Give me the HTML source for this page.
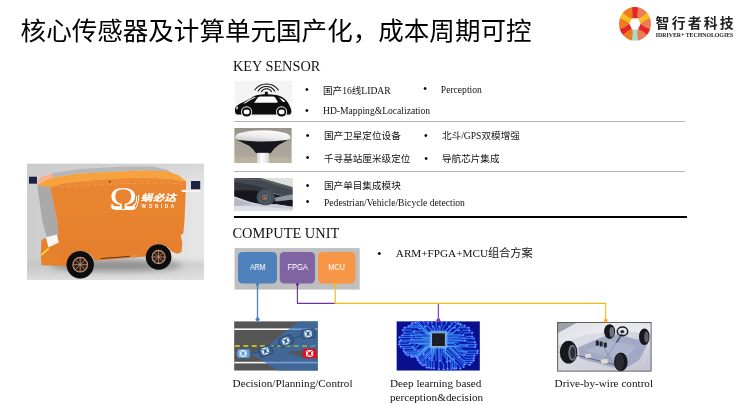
<!DOCTYPE html>
<html>
<head>
<meta charset="utf-8">
<title>核心传感器及计算单元国产化，成本周期可控</title>
<style>
html,body{margin:0;padding:0;background:#fff;}
*{-webkit-font-smoothing:antialiased;}
#wrap{position:absolute;left:0;top:0;width:740px;height:406px;will-change:opacity;opacity:0.999;}
body{width:740px;height:406px;position:relative;overflow:hidden;font-family:"Liberation Serif","Noto Sans CJK SC",serif;color:#111;}
.abs{position:absolute;white-space:nowrap;line-height:1;}
.title{left:20.6px;top:19.2px;font-family:"Liberation Sans","Noto Sans CJK SC",sans-serif;font-size:25.55px;color:#000;}
.h{font-size:14.4px;color:#111;}
.t{font-size:9.6px;color:#111;}
.b{font-size:12px;color:#000;margin-top:-1.3px;margin-left:-0.5px;}
.l{font-size:11.2px;color:#111;}
.line{position:absolute;left:234px;width:451px;background:#b4b4b4;height:1px;}
svg{position:absolute;display:block;}
</style>
</head>
<body>
<div id="wrap">
<svg id="gfx" width="740" height="406" viewBox="0 0 740 406" style="left:0;top:0;">
<defs>
  <linearGradient id="vbg" x1="0" y1="0" x2="1" y2="0">
    <stop offset="0" stop-color="#cdcdcd"/><stop offset="0.5" stop-color="#d6d6d6"/><stop offset="1" stop-color="#e6e6e6"/>
  </linearGradient>
  <linearGradient id="vbg2" x1="0" y1="0" x2="0" y2="1">
    <stop offset="0" stop-color="#c8c8c8" stop-opacity="0.5"/><stop offset="0.25" stop-color="#d8d8d8" stop-opacity="0"/><stop offset="0.8" stop-color="#d0d0d0" stop-opacity="0"/><stop offset="0.86" stop-color="#c2c2c2" stop-opacity="0.6"/><stop offset="1" stop-color="#e2e2e2" stop-opacity="0.8"/>
  </linearGradient>
  <linearGradient id="vside" x1="0" y1="0" x2="0" y2="1">
    <stop offset="0" stop-color="#ee8c32"/><stop offset="0.12" stop-color="#e98530"/><stop offset="1" stop-color="#e57e2c"/>
  </linearGradient>
  <filter id="blur1" x="-20%" y="-20%" width="140%" height="140%"><feGaussianBlur stdDeviation="0.6"/></filter>
  <filter id="blur05" x="-20%" y="-20%" width="140%" height="140%"><feGaussianBlur stdDeviation="0.4"/></filter>
  <filter id="blur2" x="-20%" y="-50%" width="140%" height="200%"><feGaussianBlur stdDeviation="3"/></filter>
  <filter id="glow" x="-20%" y="-20%" width="140%" height="140%"><feGaussianBlur stdDeviation="1.5"/></filter>
  <clipPath id="vclip"><rect x="27" y="163.5" width="177.3" height="116.6"/></clipPath>
  <clipPath id="gpsclip"><rect x="234.2" y="128" width="57.6" height="35.1"/></clipPath>
  <clipPath id="camclip"><rect x="234.2" y="178.1" width="58.5" height="32.6"/></clipPath>
  <clipPath id="roadclip"><rect x="234.1" y="321.2" width="83.8" height="49.5"/></clipPath>
  <clipPath id="chipclip"><rect x="396.6" y="321.2" width="83.3" height="49.5"/></clipPath>
  <clipPath id="chclip"><rect x="557.1" y="321.9" width="94.6" height="49.8"/></clipPath>
  <clipPath id="logoclip"><ellipse cx="635" cy="23.8" rx="16" ry="16.9"/></clipPath>
  <linearGradient id="gpsbg" x1="0" y1="0" x2="0" y2="1">
    <stop offset="0" stop-color="#979289"/><stop offset="0.4" stop-color="#a9a49a"/><stop offset="0.8" stop-color="#aca69b"/><stop offset="0.84" stop-color="#b8b09d"/><stop offset="1" stop-color="#bcb39f"/>
  </linearGradient>
  <linearGradient id="dome" x1="0.1" y1="1" x2="0.6" y2="0">
    <stop offset="0" stop-color="#c4c4c6"/><stop offset="0.5" stop-color="#ececec"/><stop offset="1" stop-color="#fbfbfb"/>
  </linearGradient>
  <linearGradient id="pole" x1="0" y1="0" x2="1" y2="0">
    <stop offset="0" stop-color="#d0d0d0"/><stop offset="0.4" stop-color="#ffffff"/><stop offset="1" stop-color="#d8d8d8"/>
  </linearGradient>
  <linearGradient id="chbg" x1="0" y1="0" x2="1" y2="1">
    <stop offset="0" stop-color="#b0b0be"/><stop offset="0.3" stop-color="#dcdce5"/><stop offset="0.7" stop-color="#d0d0dc"/><stop offset="1" stop-color="#c2c2d0"/>
  </linearGradient>
  <radialGradient id="tire" cx="0.5" cy="0.5" r="0.5">
    <stop offset="0" stop-color="#3a3a44"/><stop offset="1" stop-color="#121217"/>
  </radialGradient>
  <pattern id="checker" x="234.8" y="80.9" width="2.4" height="2.4" patternUnits="userSpaceOnUse"><rect width="2.4" height="2.4" fill="#fbfbfb"/><rect width="1.2" height="1.2" fill="#ededed"/><rect x="1.2" y="1.2" width="1.2" height="1.2" fill="#ededed"/></pattern>
</defs>
<!-- vehicle -->
<g clip-path="url(#vclip)">
  <rect x="27" y="163.5" width="177.3" height="117" fill="url(#vbg)"/>
  <rect x="27" y="163.5" width="177.3" height="117" fill="url(#vbg2)"/>
  <ellipse cx="116" cy="265.5" rx="66" ry="5.5" fill="#8e8e8e" filter="url(#blur2)"/>
  <g filter="url(#blur1)">
    <path d="M51.9,173.1 L80.3,169.1 L120,166.7 L151.4,166.2 L167,169.7 L172,173.5 L144.5,170.5 L120,171.4 L80.3,173.6 L52.8,177.6 Z" fill="#b7b7b9"/>
    <path d="M37.2,185.2 L44.1,180.9 L52.8,177.4 L80.3,173.6 L120,171.4 L144.5,170.5 L167,171.4 Q176,173.5 179,175.7 L186.2,181.2 L170.3,178.8 L144.5,177.6 L120,178.2 L89,180.4 L63.1,183.4 L50.2,187.4 Z" fill="#f7a23b"/>
    <path d="M37.2,184.6 L39.8,177.4 L51.9,173.4 L52.8,177.6 L44.1,181 Z" fill="#f8b08c"/>
    <path d="M37.2,185.2 L50.2,187.4 L57,220 L59,234 L47,238 L42.5,222 Z" fill="#a9a9a9"/>
    <path d="M47,237 L41.5,240 L40.7,254.5 L41.6,265.2 L64,266 L66,252 L59,234 Z" fill="#e6812d"/>
    <path d="M45.9,237.2 L57,234.6 L58.8,242.4 L48.4,247.6 Z" fill="#f6f6f6"/>
    <path d="M40.7,254.2 L48.4,247.6 L49,249.4 L40.9,256.4 Z" fill="#f9d53c"/>
    <path d="M50.2,187.4 L63.1,183.4 L89,180.4 L120,178.2 L144.5,177.6 L170.3,178.8 L186.2,181.2 L184.5,220 L183.3,233.8 L180.6,235 L182.3,243 L181.6,251.5 Q180,253.6 177,253.8 L171,251 Q167,244.3 158.6,244.3 Q149.5,244.3 146,256.4 L94.5,260.8 Q90.5,251 80.2,251 Q69,251 66.6,266 L62,266 L57,220 Z" fill="url(#vside)"/>
    <path d="M100.5,258.6 L129.5,256.4" stroke="#3a2416" stroke-width="0.8" fill="none"/>
    <path d="M132,256 L137,255.6" stroke="#c9a78a" stroke-width="0.8" fill="none"/>
    <path d="M61,186.6 L75,185.9 L95,185 L130,183.4 L170,183 L185,184.6" stroke="#f6c092" stroke-width="0.5" stroke-dasharray="3.4 3.2" fill="none" opacity="0.7"/>
    <circle cx="80.2" cy="264.7" r="13.7" fill="#0b0b0b"/>
    <circle cx="80.2" cy="264.7" r="7.3" fill="#2a211c" stroke="#cf946e" stroke-width="1.1"/>
    <g stroke="#cf946e" stroke-width="0.8">
      <path d="M80.2,257.5V271.9M73,264.7H87.4M75.1,259.6L85.3,269.8M75.1,269.8L85.3,259.6"/>
    </g>
    <circle cx="158.6" cy="257" r="12.8" fill="#0b0b0b"/>
    <circle cx="158.6" cy="257" r="6.6" fill="#2a211c" stroke="#cf946e" stroke-width="1.1"/>
    <g stroke="#cf946e" stroke-width="0.8">
      <path d="M158.6,250.4V263.6M152,257H165.2M153.9,252.3L163.3,261.7M153.9,261.7L163.3,252.3"/>
    </g>
    <rect x="29" y="176.7" width="8" height="7" fill="#1d2340"/>
    <rect x="191" y="181" width="9.2" height="8.4" fill="#1d2340"/>
    <rect x="181.6" y="189.8" width="18.2" height="2.2" fill="#f4f4f4"/>
    <circle cx="109.7" cy="181.8" r="0.8" fill="#222"/>
  </g>
  <g fill="#fff" font-family="'Liberation Sans','Noto Sans CJK SC',sans-serif" filter="url(#blur05)">
    <text x="109.4" y="209.4" font-family="'Liberation Serif',serif" font-size="31.5" textLength="27.5" lengthAdjust="spacingAndGlyphs">Ω</text>
    <path d="M110.5,206.2 Q112.5,209.6 117,209.6 L134,209.4 Q138.5,207 138.8,195 M136.4,196 Q137.4,201 135.2,205" stroke="#fff" stroke-width="1" fill="none"/>
    <text x="140.6" y="201.3" font-size="9.3" font-weight="900" font-style="italic" textLength="35.4" lengthAdjust="spacingAndGlyphs">蜗必达</text>
    <text x="141.6" y="207.6" font-size="4.7" font-weight="700" textLength="32.6">WOBIDA</text>
  </g>
</g>
<!-- logo -->
<g clip-path="url(#logoclip)" filter="url(#blur05)">
<path d="M635.0,23.8 L645.30,6.66 L624.70,6.66 Z" fill="#e2262a"/>
<path d="M635.0,23.8 L625.30,6.31 L615.00,24.15 Z" fill="#f8bd22"/>
<path d="M635.0,23.8 L615.00,23.45 L625.30,41.29 Z" fill="#e2262a"/>
<path d="M635.0,23.8 L624.70,40.94 L645.30,40.94 Z" fill="#a6dcc6"/>
<path d="M635.0,23.8 L644.70,41.29 L655.00,23.45 Z" fill="#e2262a"/>
<path d="M635.0,23.8 L655.00,24.15 L644.70,6.31 Z" fill="#f8bd22"/>
<path d="M640.40,23.80 Q644.46,27.62 652.39,30.01 L661.00,23.80 L652.39,17.59 Q644.46,19.98 640.40,23.80 Z" fill="#ea7d55"/>
<path d="M637.70,18.86 Q642.86,17.06 648.79,11.00 L648.00,0.02 L638.60,4.79 Q636.60,13.24 637.70,18.86 Z" fill="#ea7d55"/>
<path d="M637.70,28.74 Q636.60,34.36 638.60,42.81 L648.00,47.58 L648.79,36.60 Q642.86,30.54 637.70,28.74 Z" fill="#ea7d55"/>
<path d="M632.30,18.86 Q633.40,13.24 631.40,4.79 L622.00,0.02 L621.21,11.00 Q627.14,17.06 632.30,18.86 Z" fill="#ee7a22"/>
<path d="M629.60,23.80 Q625.54,19.98 617.61,17.59 L609.00,23.80 L617.61,30.01 Q625.54,27.62 629.60,23.80 Z" fill="#ee7a22"/>
<path d="M632.30,28.74 Q627.14,30.54 621.21,36.60 L622.00,47.58 L631.40,42.81 Q633.40,34.36 632.30,28.74 Z" fill="#ee7a22"/>
<polygon points="629.4,23.8 632.0,18.200000000000003 638.0,18.200000000000003 640.6,23.8 638.0,29.4 632.0,29.4" fill="#fff"/>
</g>
<text x="655.6" y="28.3" font-family="'Liberation Sans','Noto Sans CJK SC',sans-serif" font-weight="700" font-size="13.8" letter-spacing="2.25" fill="#222">智行者科技</text>
<text x="655.8" y="37" font-family="'Liberation Serif',serif" font-weight="700" font-size="5.5" textLength="77.5" lengthAdjust="spacingAndGlyphs" fill="#222">IDRIVER+ TECHNOLOGIES</text>
<!-- car icon -->
<g>
  <rect x="234.8" y="80.9" width="57.6" height="35.9" fill="url(#checker)"/>
  <g filter="url(#blur05)">
  <path d="M235.3,112.8 C234.4,109.5 234.9,106.8 237.3,105.4 C240.5,103.4 244.5,101.6 248.5,99.6 C251.5,97.6 254.3,95.8 257.5,95 C262,94.2 270,94 276.2,95 C280.3,95.9 283.8,97.6 286.3,100.4 C288.8,103.4 290.4,106.8 291.2,110 C291.6,112.2 291.4,113.8 289.8,114.6 L237.3,114.6 C236.2,114.3 235.7,113.8 235.3,112.8 Z" fill="#0a0a0a"/>
  <path d="M254.1,102.8 L258,97.3 Q258.8,96.5 260.4,96.5 L273,96.5 Q274.5,96.6 275.3,97.7 L277.6,101.6 Q277.8,102.8 276.5,102.8 Z" fill="#fafafa"/>
  <path d="M278.5,97.2 Q283,98.5 285.6,101.6 L283,102 Q281,99.5 278.5,97.2 Z" fill="#fafafa"/>
  <path d="M243.5,103.2 Q249,99.5 254.8,96.8 L255.6,97.5 Q250,100 245,103.4 Z" fill="#fafafa"/>
  <path d="M236.6,106.8 q1.2,-0.6 1.4,0.8 q-0.2,1.8 -1.4,2.2 q-0.6,-1.5 0,-3 Z" fill="#fafafa"/>
  <circle cx="246.6" cy="111.9" r="5.6" fill="#fafafa"/>
  <circle cx="246.6" cy="111.9" r="4.7" fill="#0a0a0a"/>
  <ellipse cx="246.6" cy="111.9" rx="3" ry="2.4" fill="#fafafa"/>
  <circle cx="281.6" cy="111.9" r="5.6" fill="#fafafa"/>
  <circle cx="281.6" cy="111.9" r="4.7" fill="#0a0a0a"/>
  <ellipse cx="281.6" cy="111.9" rx="3" ry="2.4" fill="#fafafa"/>
  <rect x="264.9" y="91.8" width="2.9" height="3.8" fill="#0a0a0a"/>
  <g fill="none" stroke="#0a0a0a" stroke-width="1.05">
    <path d="M261.3,92 A5.8,5.8 0 0 1 271.7,92"/>
    <path d="M257.8,91.4 A9.9,9.9 0 0 1 275,91.4"/>
    <path d="M254.6,90.2 A14.6,14.6 0 0 1 278.5,90.2"/>
  </g>
  </g>
</g>
<!-- gps antenna -->
<g clip-path="url(#gpsclip)">
  <rect x="234.2" y="128" width="57.6" height="35.1" fill="url(#gpsbg)"/>
  <g filter="url(#blur1)">
    <path d="M235.8,139.2 L289.8,139 Q283.5,142.4 278.4,145 Q273.5,148.6 270.6,153.2 L256,153.2 Q253.5,149 249.2,145.8 Q243.5,143 235.8,139.2 Z" fill="#12121a"/>
    <rect x="256.9" y="152.8" width="12" height="12" fill="url(#pole)"/>
    <path d="M235.3,138.2 Q234.8,135 239,133.2 Q250,130.3 263,130.2 Q276,130.3 286.5,133.2 Q290.8,135 290.3,138.2 Q289.8,139.8 285,140.3 Q263,142.8 240.5,140.3 Q235.9,139.8 235.3,138.2 Z" fill="url(#dome)"/>
  </g>
</g>
<!-- camera -->
<g clip-path="url(#camclip)">
  <rect x="234.2" y="178.1" width="58.5" height="32.6" fill="#d0d3dc"/>
  <g filter="url(#blur1)">
    <path d="M256,177 L294,187.5 L294,176 Z" fill="#dbe3df"/>
    <path d="M233,177 L259,177.5 L294,187.5 L294,200 L270,192 L233,190 Z" fill="#434a53"/>
    <path d="M233,178.5 L262,180 L294,190" stroke="#596068" stroke-width="1" fill="none"/>
    <path d="M258.5,178 L294,188.2" stroke="#7c8a55" stroke-width="0.6" fill="none"/>
    <path d="M233,186 L250,190 L262,191 L275,194 L294,200 L294,207 L276,204.2 L262,204.5 L250,202 L233,196 Z" fill="#14171c"/>
    <path d="M233,181.5 L255,185.5 L270,190 L233,190.5 Z" fill="#30363e"/>
    <path d="M273,198 L294,194 L294,199.5 L276,201.5 Z" fill="#8f959f"/>
    <path d="M233,196 L250,202 L262,204.5 L276,204.2 L294,207 L294,212 L233,212 Z" fill="#c9ccd7"/>
    <path d="M233,198 L252,204 L233,207 Z" fill="#b4b8c5"/>
    <path d="M233,206 L260,206.5 L294,209.5 L294,212 L233,212 Z" fill="#dfe1e8"/>
    <path d="M256.5,197.5 Q257,189.5 265,189.3 Q272.5,189.5 274,194 L275.5,199 Q272,205.5 265,205.3 Q257.5,205 256.5,197.5 Z" fill="#454f59"/>
    <circle cx="264.8" cy="197.2" r="6" fill="#57626e"/>
    <circle cx="264.8" cy="197.2" r="4.6" fill="#38414b"/>
    <circle cx="264.8" cy="197.2" r="3.2" fill="#6f7a86"/>
    <circle cx="264.8" cy="197.3" r="2.1" fill="#7c4a24"/>
    <circle cx="265" cy="197.7" r="1" fill="#b87a3e"/>
  </g>
</g>
<!-- road -->
<g clip-path="url(#roadclip)">
<rect x="234.1" y="321.2" width="83.8" height="49.5" fill="#565656"/>
<g filter="url(#blur05)">
<rect x="234.1" y="328.4" width="83.8" height="1.6" fill="#f8f8f8"/>
<rect x="234.1" y="361.8" width="83.8" height="1.6" fill="#f8f8f8"/>
<path d="M235,346 H318" stroke="#e6d72a" stroke-width="1.7" stroke-dasharray="4.9 3.5" fill="none"/>
<path d="M250,353.2 Q262,349 272,342 Q288,330 299,321 L318,321 L318,351 L304,350.8 Q293,350.5 285.5,352.2 Q293,354.5 302,357 L318,358.5 L318,371 L279,371 Q270,366 263,361 Q256,356 250,354.6 Z" fill="#3470ba" opacity="0.66"/>
<clipPath id="coneclip"><path d="M250,353.2 Q262,349 272,342 Q288,330 299,321 L318,321 L318,351 L304,350.8 Q293,350.5 285.5,352.2 Q293,354.5 302,357 L318,358.5 L318,371 L279,371 Q270,366 263,361 Q256,356 250,354.6 Z"/></clipPath>
<path d="M235,346 H311" stroke="#98b43c" stroke-width="1.7" stroke-dasharray="4.9 3.5" fill="none" clip-path="url(#coneclip)" opacity="0.85"/>
<path d="M250,353.5 L265.5,350.7 L286,341 L308,333.5" stroke="#1f2d44" stroke-width="0.4" fill="none"/>
<g transform="translate(243.3,353.6) rotate(0)"><rect x="-6.7" y="-4.5" width="13.4" height="9" rx="1.6" fill="#5b9bd5" stroke="#41719c" stroke-width="0.5"/><rect x="-3.8" y="-3.5" width="7.2" height="7" rx="1.2" fill="#eef2f8" opacity="0.92"/><rect x="-1.6" y="-1.8" width="2.8" height="3.6" fill="#5b9bd5"/><path d="M-3.8,-3.5 L-1.6,-1.8 M3.4,-3.5 L1.2,-1.8 M-3.8,3.5 L-1.6,1.8 M3.4,3.5 L1.2,1.8" stroke="#5b9bd5" stroke-width="0.9"/><rect x="-7" y="-4.2" width="0.9" height="2" fill="#c00000"/><rect x="-7" y="2.2" width="0.9" height="2" fill="#c00000"/></g>
<g transform="translate(265.5,351) rotate(-20)"><rect x="-6.7" y="-4.5" width="13.4" height="9" rx="1.6" fill="#3a6294" stroke="#1f2d44" stroke-width="0.5"/><rect x="-3.8" y="-3.5" width="7.2" height="7" rx="1.2" fill="#eef2f8" opacity="0.92"/><rect x="-1.6" y="-1.8" width="2.8" height="3.6" fill="#3a6294"/><path d="M-3.8,-3.5 L-1.6,-1.8 M3.4,-3.5 L1.2,-1.8 M-3.8,3.5 L-1.6,1.8 M3.4,3.5 L1.2,1.8" stroke="#3a6294" stroke-width="0.9"/></g>
<g transform="translate(286,341) rotate(-24)"><rect x="-6.7" y="-4.5" width="13.4" height="9" rx="1.6" fill="#3a6294" stroke="#1f2d44" stroke-width="0.5"/><rect x="-3.8" y="-3.5" width="7.2" height="7" rx="1.2" fill="#eef2f8" opacity="0.92"/><rect x="-1.6" y="-1.8" width="2.8" height="3.6" fill="#3a6294"/><path d="M-3.8,-3.5 L-1.6,-1.8 M3.4,-3.5 L1.2,-1.8 M-3.8,3.5 L-1.6,1.8 M3.4,3.5 L1.2,1.8" stroke="#3a6294" stroke-width="0.9"/></g>
<g transform="translate(308.3,333.7) rotate(-6)"><rect x="-6.7" y="-4.5" width="13.4" height="9" rx="1.6" fill="#3a6294" stroke="#1f2d44" stroke-width="0.5"/><rect x="-3.8" y="-3.5" width="7.2" height="7" rx="1.2" fill="#eef2f8" opacity="0.92"/><rect x="-1.6" y="-1.8" width="2.8" height="3.6" fill="#3a6294"/><path d="M-3.8,-3.5 L-1.6,-1.8 M3.4,-3.5 L1.2,-1.8 M-3.8,3.5 L-1.6,1.8 M3.4,3.5 L1.2,1.8" stroke="#3a6294" stroke-width="0.9"/></g>
<g transform="translate(309.8,353.6) rotate(0)"><rect x="-6.7" y="-4.5" width="13.4" height="9" rx="1.6" fill="#e3101c" stroke="#e3101c" stroke-width="0.5"/><rect x="-3.8" y="-3.5" width="7.2" height="7" rx="1.2" fill="#eef2f8" opacity="0.92"/><rect x="-1.6" y="-1.8" width="2.8" height="3.6" fill="#e3101c"/><path d="M-3.8,-3.5 L-1.6,-1.8 M3.4,-3.5 L1.2,-1.8 M-3.8,3.5 L-1.6,1.8 M3.4,3.5 L1.2,1.8" stroke="#e3101c" stroke-width="0.9"/></g>
</g>
</g>
<!-- chip brain -->
<g clip-path="url(#chipclip)">
<rect x="396.1" y="321.2" width="83.8" height="49.5" fill="#08108c"/>
<path d="M401.2,348.7 Q399.1,344.4 399.7,340.1 Q400.3,335.8 403.1,330.9 Q405.9,325.9 410.8,324.0 Q415.7,322.0 424.3,321.6 Q432.9,321.2 442.2,321.2 Q451.4,321.2 458.2,322.7 Q465.0,324.1 469.3,329.3 Q473.6,334.5 475.4,340.1 Q477.3,345.6 476.7,351.2 Q476.0,356.7 473.0,360.4 Q469.9,364.1 463.7,366.4 Q457.6,368.8 453.9,369.4 Q450.2,370.0 441.6,369.2 Q432.9,368.4 428.6,367.5 Q424.3,366.6 421.2,364.1 Q418.2,361.6 417.6,359.2 Q416.9,356.7 413.9,356.7 Q410.8,356.7 407.1,354.9 Q403.4,353.0 401.2,348.7 Z" fill="#0f24b4" opacity="0.55" filter="url(#glow)"/>
<path d="M430.7,342.2L410.7,342.2L408.7,344.3L399.1,344.3M430.7,340.9L407.9,340.9L407.0,341.8L399.5,341.8M430.7,340.0L407.8,340.0L407.6,340.2L400.6,340.2M430.7,338.5L422.6,338.5L421.6,337.4L399.6,337.4M430.7,337.4L416.7,337.4L414.8,335.4L402.2,335.4M430.7,336.0L423.0,336.0L420.0,333.0L404.3,333.0M430.7,334.4L415.3,334.4L410.9,330.1L403.0,330.1M430.7,333.1L424.9,333.1L419.5,327.7L404.7,327.7M430.7,332.9L427.6,332.9L420.9,326.2L408.7,326.2M430.7,332.9L426.8,332.9L419.0,325.0L411.1,325.0M430.7,332.9L427.5,332.9L417.7,323.1L412.3,323.1M430.7,332.9L427.8,332.9L417.4,322.5L415.5,322.5M430.7,332.9L429.8,332.9L418.5,321.6L417.9,321.6M431.7,331.9L431.7,331.0L423.6,322.9L423.6,321.4M432.7,331.9L432.7,330.5L428.0,325.8L428.0,322.4M434.9,331.9L434.9,328.0L431.9,325.0L431.9,322.0M437.3,331.9L437.3,328.0L436.3,327.1L436.3,321.4M440.2,331.9L440.2,327.3L441.7,325.9L441.7,321.2M442.8,331.9L442.8,327.7L446.4,324.2L446.4,321.7M445.3,331.9L445.3,330.8L451.3,324.9L451.3,320.9M445.3,331.9L445.3,330.8L454.2,322.0L455.6,322.0M446.3,332.9L447.7,332.9L457.2,323.4L458.4,323.4M446.3,332.9L448.0,332.9L456.6,324.4L460.5,324.4M446.3,332.9L453.7,332.9L460.7,325.8L464.6,325.8M446.3,333.1L453.2,333.1L458.6,327.7L468.6,327.7M446.3,334.6L458.9,334.6L463.1,330.4L469.4,330.4M446.3,335.9L461.7,335.9L464.8,332.8L472.1,332.8M446.3,337.9L465.0,337.9L466.4,336.5L472.1,336.5M446.3,339.1L461.5,339.1L462.0,338.5L473.7,338.5M446.3,341.0L467.0,341.0L468.1,342.1L474.8,342.1M446.3,342.4L456.9,342.4L459.1,344.6L475.6,344.6M446.3,343.7L453.7,343.7L456.9,346.9L475.0,346.9M446.3,345.9L454.1,345.9L459.1,350.9L477.5,350.9M446.3,346.5L458.8,346.5L465.6,353.3L477.2,353.3M446.3,346.5L456.9,346.5L466.0,355.6L474.5,355.6M446.3,346.5L453.4,346.5L465.0,358.2L473.6,358.2M446.3,346.5L449.2,346.5L463.2,360.4L473.6,360.4M446.3,346.5L448.9,346.5L464.9,362.5L471.6,362.5M446.3,346.5L449.4,346.5L467.6,364.7L469.8,364.7M446.3,346.5L446.6,346.5L464.3,364.2L464.6,364.2M445.3,347.5L445.3,347.9L463.6,366.1L463.6,366.8M445.3,347.5L445.3,351.8L460.3,366.7L460.3,368.5M445.3,347.5L445.3,352.3L456.2,363.3L456.2,368.2M445.3,347.5L445.3,351.9L454.5,361.2L454.5,368.6M445.3,347.5L445.3,353.2L452.4,360.3L452.4,368.0M445.3,347.5L445.3,357.4L451.0,363.1L451.0,370.4M443.4,347.5L443.4,351.9L447.5,355.9L447.5,368.8M441.3,347.5L441.3,361.7L443.6,364.0L443.6,369.5M438.7,347.5L438.7,361.7L438.9,361.9L438.9,369.0M436.0,347.5L436.0,359.8L433.9,361.8L433.9,368.3M434.6,347.5L434.6,353.9L431.4,357.1L431.4,368.0M433.3,347.5L433.3,357.2L429.0,361.5L429.0,367.6M432.0,347.5L432.0,356.2L426.7,361.5L426.7,367.5M431.7,347.5L431.7,353.3L425.2,359.8L425.2,364.9M431.7,347.5L431.7,351.8L423.0,360.5L423.0,365.3M431.7,347.5L431.7,351.3L421.2,361.9L421.2,363.7M431.7,347.5L431.7,349.5L419.8,361.5L419.8,362.6M431.7,347.5L431.7,347.6L418.8,360.5L418.8,360.6M430.7,346.5L426.8,346.5L417.9,355.4L417.9,359.9M430.7,346.5L430.1,346.5L418.3,358.3L417.8,358.3M430.7,346.5L428.9,346.5L417.6,357.8L417.0,357.8M430.7,346.5L428.1,346.5L418.0,356.6L416.5,356.6M430.7,346.5L427.0,346.5L417.6,355.9L415.7,355.9M430.7,346.5L427.4,346.5L417.3,356.6L413.2,356.6M430.7,346.5L425.4,346.5L415.2,356.7L411.4,356.7M430.7,346.5L427.5,346.5L418.9,355.1L411.2,355.1M430.7,346.5L426.0,346.5L417.5,355.1L408.0,355.1M430.7,346.5L426.8,346.5L419.3,354.0L406.0,354.0M430.7,346.5L426.2,346.5L420.1,352.6L405.3,352.6M430.7,345.9L424.0,345.9L418.9,351.1L403.9,351.1M430.7,344.6L419.6,344.6L415.6,348.6L403.6,348.6M430.7,343.5L415.8,343.5L412.7,346.7L400.7,346.7M430.7,341.8L426.8,341.8L425.1,343.5L409.7,343.5M430.7,339.5L422.2,339.5L422.0,339.3L411.5,339.3M430.7,337.4L423.3,337.4L421.4,335.4L411.4,335.4M430.7,335.0L427.5,335.0L423.6,331.2L414.3,331.2M430.7,333.6L427.2,333.6L422.2,328.5L419.4,328.5M430.7,332.9L428.4,332.9L425.1,329.5L425.1,326.6M435.3,331.9L435.3,330.7L432.8,328.1L432.8,326.5M439.0,331.9L439.0,329.2L439.4,328.8L439.4,326.5M444.6,331.9L444.6,331.6L449.6,326.6L449.6,326.4M446.3,333.0L446.9,333.0L452.3,327.6L454.7,327.6M446.3,334.6L451.2,334.6L455.3,330.5L459.0,330.5M446.3,337.2L457.1,337.2L459.2,335.2L463.1,335.2M446.3,340.2L452.4,340.2L452.8,340.6L464.8,340.6M446.3,343.0L454.0,343.0L456.7,345.7L467.0,345.7M446.3,346.4L454.3,346.4L459.8,351.8L466.1,351.8M446.3,346.5L451.1,346.5L459.3,354.8L464.2,354.8M446.3,346.5L448.3,346.5L458.9,357.2L459.5,357.2M445.3,347.5L445.3,349.1L453.8,357.6L453.8,359.2M445.1,347.5L445.1,351.2L450.4,356.6L450.4,360.9M443.2,347.5L443.2,354.7L447.0,358.6L447.0,361.7M439.2,347.5L439.2,352.1L439.8,352.7L439.8,360.6M435.0,347.5L435.0,350.9L432.1,353.8L432.1,360.1M433.5,347.5L433.5,352.9L429.4,357.0L429.4,358.4M431.7,347.5L431.7,349.4L426.0,355.1L426.0,357.1M431.7,347.5L431.7,350.7L427.8,354.6L423.7,354.6M430.7,346.5L430.2,346.5L423.8,352.9L423.1,352.9M430.7,346.3L429.2,346.3L423.8,351.6L421.3,351.6M430.7,346.2L427.7,346.2L422.4,351.5L418.3,351.5M430.7,345.3L428.1,345.3L423.6,349.8L414.5,349.8M430.7,343.8L419.7,343.8L416.3,347.2L412.7,347.2" stroke="#1c46ff" stroke-width="1.6" fill="none" opacity="0.4" filter="url(#blur1)"/>
<path d="M430.7,342.2L410.7,342.2L408.7,344.3L399.1,344.3M430.7,340.9L407.9,340.9L407.0,341.8L399.5,341.8M430.7,340.0L407.8,340.0L407.6,340.2L400.6,340.2M430.7,338.5L422.6,338.5L421.6,337.4L399.6,337.4M430.7,337.4L416.7,337.4L414.8,335.4L402.2,335.4M430.7,336.0L423.0,336.0L420.0,333.0L404.3,333.0M430.7,334.4L415.3,334.4L410.9,330.1L403.0,330.1M430.7,333.1L424.9,333.1L419.5,327.7L404.7,327.7M430.7,332.9L427.6,332.9L420.9,326.2L408.7,326.2M430.7,332.9L426.8,332.9L419.0,325.0L411.1,325.0M430.7,332.9L427.5,332.9L417.7,323.1L412.3,323.1M430.7,332.9L427.8,332.9L417.4,322.5L415.5,322.5M430.7,332.9L429.8,332.9L418.5,321.6L417.9,321.6M431.7,331.9L431.7,331.0L423.6,322.9L423.6,321.4M432.7,331.9L432.7,330.5L428.0,325.8L428.0,322.4M434.9,331.9L434.9,328.0L431.9,325.0L431.9,322.0M437.3,331.9L437.3,328.0L436.3,327.1L436.3,321.4M440.2,331.9L440.2,327.3L441.7,325.9L441.7,321.2M442.8,331.9L442.8,327.7L446.4,324.2L446.4,321.7M445.3,331.9L445.3,330.8L451.3,324.9L451.3,320.9M445.3,331.9L445.3,330.8L454.2,322.0L455.6,322.0M446.3,332.9L447.7,332.9L457.2,323.4L458.4,323.4M446.3,332.9L448.0,332.9L456.6,324.4L460.5,324.4M446.3,332.9L453.7,332.9L460.7,325.8L464.6,325.8M446.3,333.1L453.2,333.1L458.6,327.7L468.6,327.7M446.3,334.6L458.9,334.6L463.1,330.4L469.4,330.4M446.3,335.9L461.7,335.9L464.8,332.8L472.1,332.8M446.3,337.9L465.0,337.9L466.4,336.5L472.1,336.5M446.3,339.1L461.5,339.1L462.0,338.5L473.7,338.5M446.3,341.0L467.0,341.0L468.1,342.1L474.8,342.1M446.3,342.4L456.9,342.4L459.1,344.6L475.6,344.6M446.3,343.7L453.7,343.7L456.9,346.9L475.0,346.9M446.3,345.9L454.1,345.9L459.1,350.9L477.5,350.9M446.3,346.5L458.8,346.5L465.6,353.3L477.2,353.3M446.3,346.5L456.9,346.5L466.0,355.6L474.5,355.6M446.3,346.5L453.4,346.5L465.0,358.2L473.6,358.2M446.3,346.5L449.2,346.5L463.2,360.4L473.6,360.4M446.3,346.5L448.9,346.5L464.9,362.5L471.6,362.5M446.3,346.5L449.4,346.5L467.6,364.7L469.8,364.7M446.3,346.5L446.6,346.5L464.3,364.2L464.6,364.2M445.3,347.5L445.3,347.9L463.6,366.1L463.6,366.8M445.3,347.5L445.3,351.8L460.3,366.7L460.3,368.5M445.3,347.5L445.3,352.3L456.2,363.3L456.2,368.2M445.3,347.5L445.3,351.9L454.5,361.2L454.5,368.6M445.3,347.5L445.3,353.2L452.4,360.3L452.4,368.0M445.3,347.5L445.3,357.4L451.0,363.1L451.0,370.4M443.4,347.5L443.4,351.9L447.5,355.9L447.5,368.8M441.3,347.5L441.3,361.7L443.6,364.0L443.6,369.5M438.7,347.5L438.7,361.7L438.9,361.9L438.9,369.0M436.0,347.5L436.0,359.8L433.9,361.8L433.9,368.3M434.6,347.5L434.6,353.9L431.4,357.1L431.4,368.0M433.3,347.5L433.3,357.2L429.0,361.5L429.0,367.6M432.0,347.5L432.0,356.2L426.7,361.5L426.7,367.5M431.7,347.5L431.7,353.3L425.2,359.8L425.2,364.9M431.7,347.5L431.7,351.8L423.0,360.5L423.0,365.3M431.7,347.5L431.7,351.3L421.2,361.9L421.2,363.7M431.7,347.5L431.7,349.5L419.8,361.5L419.8,362.6M431.7,347.5L431.7,347.6L418.8,360.5L418.8,360.6M430.7,346.5L426.8,346.5L417.9,355.4L417.9,359.9M430.7,346.5L430.1,346.5L418.3,358.3L417.8,358.3M430.7,346.5L428.9,346.5L417.6,357.8L417.0,357.8M430.7,346.5L428.1,346.5L418.0,356.6L416.5,356.6M430.7,346.5L427.0,346.5L417.6,355.9L415.7,355.9M430.7,346.5L427.4,346.5L417.3,356.6L413.2,356.6M430.7,346.5L425.4,346.5L415.2,356.7L411.4,356.7M430.7,346.5L427.5,346.5L418.9,355.1L411.2,355.1M430.7,346.5L426.0,346.5L417.5,355.1L408.0,355.1M430.7,346.5L426.8,346.5L419.3,354.0L406.0,354.0M430.7,346.5L426.2,346.5L420.1,352.6L405.3,352.6M430.7,345.9L424.0,345.9L418.9,351.1L403.9,351.1M430.7,344.6L419.6,344.6L415.6,348.6L403.6,348.6M430.7,343.5L415.8,343.5L412.7,346.7L400.7,346.7M430.7,341.8L426.8,341.8L425.1,343.5L409.7,343.5M430.7,339.5L422.2,339.5L422.0,339.3L411.5,339.3M430.7,337.4L423.3,337.4L421.4,335.4L411.4,335.4M430.7,335.0L427.5,335.0L423.6,331.2L414.3,331.2M430.7,333.6L427.2,333.6L422.2,328.5L419.4,328.5M430.7,332.9L428.4,332.9L425.1,329.5L425.1,326.6M435.3,331.9L435.3,330.7L432.8,328.1L432.8,326.5M439.0,331.9L439.0,329.2L439.4,328.8L439.4,326.5M444.6,331.9L444.6,331.6L449.6,326.6L449.6,326.4M446.3,333.0L446.9,333.0L452.3,327.6L454.7,327.6M446.3,334.6L451.2,334.6L455.3,330.5L459.0,330.5M446.3,337.2L457.1,337.2L459.2,335.2L463.1,335.2M446.3,340.2L452.4,340.2L452.8,340.6L464.8,340.6M446.3,343.0L454.0,343.0L456.7,345.7L467.0,345.7M446.3,346.4L454.3,346.4L459.8,351.8L466.1,351.8M446.3,346.5L451.1,346.5L459.3,354.8L464.2,354.8M446.3,346.5L448.3,346.5L458.9,357.2L459.5,357.2M445.3,347.5L445.3,349.1L453.8,357.6L453.8,359.2M445.1,347.5L445.1,351.2L450.4,356.6L450.4,360.9M443.2,347.5L443.2,354.7L447.0,358.6L447.0,361.7M439.2,347.5L439.2,352.1L439.8,352.7L439.8,360.6M435.0,347.5L435.0,350.9L432.1,353.8L432.1,360.1M433.5,347.5L433.5,352.9L429.4,357.0L429.4,358.4M431.7,347.5L431.7,349.4L426.0,355.1L426.0,357.1M431.7,347.5L431.7,350.7L427.8,354.6L423.7,354.6M430.7,346.5L430.2,346.5L423.8,352.9L423.1,352.9M430.7,346.3L429.2,346.3L423.8,351.6L421.3,351.6M430.7,346.2L427.7,346.2L422.4,351.5L418.3,351.5M430.7,345.3L428.1,345.3L423.6,349.8L414.5,349.8M430.7,343.8L419.7,343.8L416.3,347.2L412.7,347.2" stroke="#4cb0f8" stroke-width="0.6" fill="none" opacity="0.95" filter="url(#blur05)"/>
<g fill="#3d5cff" filter="url(#blur1)"><circle cx="399.1" cy="344.3" r="1.3"/><circle cx="399.5" cy="341.8" r="1.3"/><circle cx="400.6" cy="340.2" r="1.3"/><circle cx="399.6" cy="337.4" r="1.3"/><circle cx="402.2" cy="335.4" r="1.3"/><circle cx="404.3" cy="333.0" r="1.3"/><circle cx="403.0" cy="330.1" r="1.3"/><circle cx="404.7" cy="327.7" r="1.3"/><circle cx="408.7" cy="326.2" r="1.3"/><circle cx="411.1" cy="325.0" r="1.3"/><circle cx="412.3" cy="323.1" r="1.3"/><circle cx="415.5" cy="322.5" r="1.3"/><circle cx="417.9" cy="321.6" r="1.3"/><circle cx="423.6" cy="321.4" r="1.3"/><circle cx="428.0" cy="322.4" r="1.3"/><circle cx="431.9" cy="322.0" r="1.3"/><circle cx="436.3" cy="321.4" r="1.3"/><circle cx="441.7" cy="321.2" r="1.3"/><circle cx="446.4" cy="321.7" r="1.3"/><circle cx="451.3" cy="320.9" r="1.3"/><circle cx="455.6" cy="322.0" r="1.3"/><circle cx="458.4" cy="323.4" r="1.3"/><circle cx="460.5" cy="324.4" r="1.3"/><circle cx="464.6" cy="325.8" r="1.3"/><circle cx="468.6" cy="327.7" r="1.3"/><circle cx="469.4" cy="330.4" r="1.3"/><circle cx="472.1" cy="332.8" r="1.3"/><circle cx="472.1" cy="336.5" r="1.3"/><circle cx="473.7" cy="338.5" r="1.3"/><circle cx="474.8" cy="342.1" r="1.3"/><circle cx="475.6" cy="344.6" r="1.3"/><circle cx="475.0" cy="346.9" r="1.3"/><circle cx="477.5" cy="350.9" r="1.3"/><circle cx="477.2" cy="353.3" r="1.3"/><circle cx="474.5" cy="355.6" r="1.3"/><circle cx="473.6" cy="358.2" r="1.3"/><circle cx="473.6" cy="360.4" r="1.3"/><circle cx="471.6" cy="362.5" r="1.3"/><circle cx="469.8" cy="364.7" r="1.3"/><circle cx="464.6" cy="364.2" r="1.3"/><circle cx="463.6" cy="366.8" r="1.3"/><circle cx="460.3" cy="368.5" r="1.3"/><circle cx="456.2" cy="368.2" r="1.3"/><circle cx="454.5" cy="368.6" r="1.3"/><circle cx="452.4" cy="368.0" r="1.3"/><circle cx="451.0" cy="370.4" r="1.3"/><circle cx="447.5" cy="368.8" r="1.3"/><circle cx="443.6" cy="369.5" r="1.3"/><circle cx="438.9" cy="369.0" r="1.3"/><circle cx="433.9" cy="368.3" r="1.3"/><circle cx="431.4" cy="368.0" r="1.3"/><circle cx="429.0" cy="367.6" r="1.3"/><circle cx="426.7" cy="367.5" r="1.3"/><circle cx="425.2" cy="364.9" r="1.3"/><circle cx="423.0" cy="365.3" r="1.3"/><circle cx="421.2" cy="363.7" r="1.3"/><circle cx="419.8" cy="362.6" r="1.3"/><circle cx="418.8" cy="360.6" r="1.3"/><circle cx="417.9" cy="359.9" r="1.3"/><circle cx="417.8" cy="358.3" r="1.3"/><circle cx="417.0" cy="357.8" r="1.3"/><circle cx="416.5" cy="356.6" r="1.3"/><circle cx="415.7" cy="355.9" r="1.3"/><circle cx="413.2" cy="356.6" r="1.3"/><circle cx="411.4" cy="356.7" r="1.3"/><circle cx="411.2" cy="355.1" r="1.3"/><circle cx="408.0" cy="355.1" r="1.3"/><circle cx="406.0" cy="354.0" r="1.3"/><circle cx="405.3" cy="352.6" r="1.3"/><circle cx="403.9" cy="351.1" r="1.3"/><circle cx="403.6" cy="348.6" r="1.3"/><circle cx="400.7" cy="346.7" r="1.3"/><circle cx="409.7" cy="343.5" r="1.3"/><circle cx="411.5" cy="339.3" r="1.3"/><circle cx="411.4" cy="335.4" r="1.3"/><circle cx="414.3" cy="331.2" r="1.3"/><circle cx="419.4" cy="328.5" r="1.3"/><circle cx="425.1" cy="326.6" r="1.3"/><circle cx="432.8" cy="326.5" r="1.3"/><circle cx="439.4" cy="326.5" r="1.3"/><circle cx="449.6" cy="326.4" r="1.3"/><circle cx="454.7" cy="327.6" r="1.3"/><circle cx="459.0" cy="330.5" r="1.3"/><circle cx="463.1" cy="335.2" r="1.3"/><circle cx="464.8" cy="340.6" r="1.3"/><circle cx="467.0" cy="345.7" r="1.3"/><circle cx="466.1" cy="351.8" r="1.3"/><circle cx="464.2" cy="354.8" r="1.3"/><circle cx="459.5" cy="357.2" r="1.3"/><circle cx="453.8" cy="359.2" r="1.3"/><circle cx="450.4" cy="360.9" r="1.3"/><circle cx="447.0" cy="361.7" r="1.3"/><circle cx="439.8" cy="360.6" r="1.3"/><circle cx="432.1" cy="360.1" r="1.3"/><circle cx="429.4" cy="358.4" r="1.3"/><circle cx="426.0" cy="357.1" r="1.3"/><circle cx="423.7" cy="354.6" r="1.3"/><circle cx="423.1" cy="352.9" r="1.3"/><circle cx="421.3" cy="351.6" r="1.3"/><circle cx="418.3" cy="351.5" r="1.3"/><circle cx="414.5" cy="349.8" r="1.3"/><circle cx="412.7" cy="347.2" r="1.3"/></g>
<g fill="#8fc0ff" filter="url(#blur05)"><circle cx="399.1" cy="344.3" r="0.6"/><circle cx="399.5" cy="341.8" r="0.6"/><circle cx="400.6" cy="340.2" r="0.6"/><circle cx="399.6" cy="337.4" r="0.6"/><circle cx="402.2" cy="335.4" r="0.6"/><circle cx="404.3" cy="333.0" r="0.6"/><circle cx="403.0" cy="330.1" r="0.6"/><circle cx="404.7" cy="327.7" r="0.6"/><circle cx="408.7" cy="326.2" r="0.6"/><circle cx="411.1" cy="325.0" r="0.6"/><circle cx="412.3" cy="323.1" r="0.6"/><circle cx="415.5" cy="322.5" r="0.6"/><circle cx="417.9" cy="321.6" r="0.6"/><circle cx="423.6" cy="321.4" r="0.6"/><circle cx="428.0" cy="322.4" r="0.6"/><circle cx="431.9" cy="322.0" r="0.6"/><circle cx="436.3" cy="321.4" r="0.6"/><circle cx="441.7" cy="321.2" r="0.6"/><circle cx="446.4" cy="321.7" r="0.6"/><circle cx="451.3" cy="320.9" r="0.6"/><circle cx="455.6" cy="322.0" r="0.6"/><circle cx="458.4" cy="323.4" r="0.6"/><circle cx="460.5" cy="324.4" r="0.6"/><circle cx="464.6" cy="325.8" r="0.6"/><circle cx="468.6" cy="327.7" r="0.6"/><circle cx="469.4" cy="330.4" r="0.6"/><circle cx="472.1" cy="332.8" r="0.6"/><circle cx="472.1" cy="336.5" r="0.6"/><circle cx="473.7" cy="338.5" r="0.6"/><circle cx="474.8" cy="342.1" r="0.6"/><circle cx="475.6" cy="344.6" r="0.6"/><circle cx="475.0" cy="346.9" r="0.6"/><circle cx="477.5" cy="350.9" r="0.6"/><circle cx="477.2" cy="353.3" r="0.6"/><circle cx="474.5" cy="355.6" r="0.6"/><circle cx="473.6" cy="358.2" r="0.6"/><circle cx="473.6" cy="360.4" r="0.6"/><circle cx="471.6" cy="362.5" r="0.6"/><circle cx="469.8" cy="364.7" r="0.6"/><circle cx="464.6" cy="364.2" r="0.6"/><circle cx="463.6" cy="366.8" r="0.6"/><circle cx="460.3" cy="368.5" r="0.6"/><circle cx="456.2" cy="368.2" r="0.6"/><circle cx="454.5" cy="368.6" r="0.6"/><circle cx="452.4" cy="368.0" r="0.6"/><circle cx="451.0" cy="370.4" r="0.6"/><circle cx="447.5" cy="368.8" r="0.6"/><circle cx="443.6" cy="369.5" r="0.6"/><circle cx="438.9" cy="369.0" r="0.6"/><circle cx="433.9" cy="368.3" r="0.6"/><circle cx="431.4" cy="368.0" r="0.6"/><circle cx="429.0" cy="367.6" r="0.6"/><circle cx="426.7" cy="367.5" r="0.6"/><circle cx="425.2" cy="364.9" r="0.6"/><circle cx="423.0" cy="365.3" r="0.6"/><circle cx="421.2" cy="363.7" r="0.6"/><circle cx="419.8" cy="362.6" r="0.6"/><circle cx="418.8" cy="360.6" r="0.6"/><circle cx="417.9" cy="359.9" r="0.6"/><circle cx="417.8" cy="358.3" r="0.6"/><circle cx="417.0" cy="357.8" r="0.6"/><circle cx="416.5" cy="356.6" r="0.6"/><circle cx="415.7" cy="355.9" r="0.6"/><circle cx="413.2" cy="356.6" r="0.6"/><circle cx="411.4" cy="356.7" r="0.6"/><circle cx="411.2" cy="355.1" r="0.6"/><circle cx="408.0" cy="355.1" r="0.6"/><circle cx="406.0" cy="354.0" r="0.6"/><circle cx="405.3" cy="352.6" r="0.6"/><circle cx="403.9" cy="351.1" r="0.6"/><circle cx="403.6" cy="348.6" r="0.6"/><circle cx="400.7" cy="346.7" r="0.6"/><circle cx="409.7" cy="343.5" r="0.6"/><circle cx="411.5" cy="339.3" r="0.6"/><circle cx="411.4" cy="335.4" r="0.6"/><circle cx="414.3" cy="331.2" r="0.6"/><circle cx="419.4" cy="328.5" r="0.6"/><circle cx="425.1" cy="326.6" r="0.6"/><circle cx="432.8" cy="326.5" r="0.6"/><circle cx="439.4" cy="326.5" r="0.6"/><circle cx="449.6" cy="326.4" r="0.6"/><circle cx="454.7" cy="327.6" r="0.6"/><circle cx="459.0" cy="330.5" r="0.6"/><circle cx="463.1" cy="335.2" r="0.6"/><circle cx="464.8" cy="340.6" r="0.6"/><circle cx="467.0" cy="345.7" r="0.6"/><circle cx="466.1" cy="351.8" r="0.6"/><circle cx="464.2" cy="354.8" r="0.6"/><circle cx="459.5" cy="357.2" r="0.6"/><circle cx="453.8" cy="359.2" r="0.6"/><circle cx="450.4" cy="360.9" r="0.6"/><circle cx="447.0" cy="361.7" r="0.6"/><circle cx="439.8" cy="360.6" r="0.6"/><circle cx="432.1" cy="360.1" r="0.6"/><circle cx="429.4" cy="358.4" r="0.6"/><circle cx="426.0" cy="357.1" r="0.6"/><circle cx="423.7" cy="354.6" r="0.6"/><circle cx="423.1" cy="352.9" r="0.6"/><circle cx="421.3" cy="351.6" r="0.6"/><circle cx="418.3" cy="351.5" r="0.6"/><circle cx="414.5" cy="349.8" r="0.6"/><circle cx="412.7" cy="347.2" r="0.6"/></g>
<rect x="429.6" y="330.8" width="17.8" height="17.8" rx="1.5" fill="#7fc0ff" opacity="0.7" filter="url(#blur1)"/>
<rect x="431.6" y="332.8" width="13.8" height="13.8" rx="1" fill="#1b1b22" stroke="#a8d4ff" stroke-width="0.8" filter="url(#blur05)"/>
<path d="M434,336 h8 M434,338.5 h6 M435,341 h7 M434,343.5 h5" stroke="#2e2e38" stroke-width="0.6"/>
</g>
<!-- chassis -->
<g clip-path="url(#chclip)">
  <rect x="557.1" y="321.9" width="94.6" height="49.8" fill="url(#chbg)"/>
  <g filter="url(#blur1)">
    <path d="M556,324 L575,322 L610,322 L652,324 L652,333 L610,331 L585,335 L556,346 Z" fill="#ececf2" opacity="0.75"/>
    <path d="M556,321 L580,321 L556,334 Z" fill="#8e8e9c" opacity="0.8"/>
    <path d="M578,347.5 L600,338 L608,335.2 L618,334.5 L641,340.5 L648,343 L639,360 L627,367.5 L615,368 L580,358.5 Z" fill="#9ca4c2" opacity="0.9"/>
    <path d="M586,351 L609,340 L636,346 L624,361 Z" fill="#adb5cf" opacity="0.9"/>
    <path d="M576.5,355.2 L615,364.8" stroke="#5f6474" stroke-width="1"/>
    <path d="M603,346 L614,365 M618,340 L604,360.3" stroke="#767b90" stroke-width="0.6"/>
    <path d="M584.8,354.6 l5.5,-1 l1.2,3.6 l-5.5,1z M600.5,359.8 l6.5,-1 l1.2,4 l-6.5,1z" fill="#dedccc"/>
    <path d="M622,334 L616.5,342.5" stroke="#4a4e5e" stroke-width="1.4"/>
    <rect x="595.8" y="340.6" width="3" height="5.2" rx="0.8" fill="#22232b"/>
    <rect x="599.6" y="341.4" width="3" height="5.2" rx="0.8" fill="#22232b"/>
    <rect x="603.8" y="342.4" width="3" height="5.2" rx="0.8" fill="#22232b"/>
    <ellipse cx="609.6" cy="331.6" rx="5.5" ry="7.4" fill="#17171d"/>
    <ellipse cx="611.8" cy="332" rx="2.3" ry="5" fill="#70727f"/>
    <ellipse cx="644.4" cy="336.8" rx="5.4" ry="8.3" fill="#17171d"/>
    <ellipse cx="646.4" cy="337" rx="2.2" ry="5.6" fill="#5d5f6c"/>
    <ellipse cx="622.5" cy="331.4" rx="5.2" ry="4.3" fill="none" stroke="#1c1c22" stroke-width="1.5"/>
    <ellipse cx="622.3" cy="331.6" rx="2" ry="1.6" fill="#2a2a33"/>
    <ellipse cx="568.6" cy="352.2" rx="8.8" ry="11.4" fill="#17171d"/>
    <ellipse cx="572.3" cy="352.8" rx="4" ry="8" fill="#74768a"/>
    <ellipse cx="572.7" cy="352.8" rx="2.6" ry="6.2" fill="#2e2f38"/>
    <ellipse cx="620.8" cy="361.9" rx="6.8" ry="9.4" fill="#17171d"/>
    <ellipse cx="619.6" cy="362" rx="4.4" ry="8" fill="#2b2c35"/>
    <path d="M641,368 Q650,350 650,328" stroke="#ececf2" stroke-width="0.4" fill="none"/>
    <path d="M558,364 Q562,369 567,371.5" stroke="#ececf2" stroke-width="0.4" fill="none"/>
  </g>
  <rect x="557.6" y="322.4" width="93.6" height="48.8" fill="none" stroke="#555" stroke-width="1"/>
</g>
<!-- compute unit -->
<g>
  <rect x="234.5" y="248.1" width="125.2" height="41.5" fill="#bfbfbf"/>
  <rect x="238" y="252" width="39" height="31.5" rx="4.5" fill="#4f81bd"/>
  <rect x="279.7" y="252" width="35.3" height="31.5" rx="4.5" fill="#8064a2"/>
  <rect x="318" y="252" width="37.4" height="31.5" rx="4.5" fill="#f79646"/>
  <g font-family="'Liberation Sans','DejaVu Sans',sans-serif" font-size="8.5" fill="#fff" text-anchor="middle">
    <text x="257.6" y="270.3" textLength="15.4" lengthAdjust="spacingAndGlyphs">ARM</text>
    <text x="297.6" y="270.3" textLength="20.4" lengthAdjust="spacingAndGlyphs">FPGA</text>
    <text x="336.8" y="270.3" textLength="16.4" lengthAdjust="spacingAndGlyphs">MCU</text>
  </g>
  <path d="M257.5,283.6 V318.8" stroke="#4f81bd" stroke-width="1.3" fill="none"/>
  <circle cx="257.5" cy="284.4" r="1.6" fill="#4f81bd"/>
  <circle cx="257.6" cy="319.2" r="2" fill="#4f81bd"/>
  <path d="M297.4,283.6 V303.4 H335.3" stroke="#7030a0" stroke-width="1.1" fill="none"/>
  <circle cx="297.4" cy="284.4" r="1.6" fill="#7030a0"/>
  <circle cx="438.4" cy="320.2" r="2" fill="#8a3aa8"/>
  <path d="M335.3,283.6 V303.4 H605.7 V320.4" stroke="#fdb913" stroke-width="1.1" fill="none"/>
  <path d="M438.4,304 V320.4" stroke="#8a48b8" stroke-width="1.3" fill="none"/>
  <circle cx="335.3" cy="284.4" r="1.6" fill="#fdb913"/>
  <circle cx="605.7" cy="320.6" r="1.8" fill="#fda913"/>
</g>
</svg>
<div class="abs title">核心传感器及计算单元国产化，成本周期可控</div>

<div class="abs h" style="left:233px;top:58.7px;font-size:14.3px;">KEY SENSOR</div>
<div class="abs h" style="left:232.5px;top:226px;">COMPUTE UNIT</div>

<div class="line" style="top:121px;"></div>
<div class="line" style="top:171px;"></div>
<div class="line" style="top:216.2px;height:1.5px;background:#000;width:452.5px;"></div>

<div class="abs b" style="left:305.2px;top:85.5px;">•</div>
<div class="abs t" style="left:323px;top:85.8px;">国产16线LIDAR</div>
<div class="abs b" style="left:423.5px;top:84.7px;">•</div>
<div class="abs t" style="left:440.8px;top:84.6px;">Perception</div>
<div class="abs b" style="left:305.3px;top:106px;">•</div>
<div class="abs t" style="left:323px;top:106.4px;">HD-Mapping&amp;Localization</div>

<div class="abs b" style="left:306px;top:131.1px;">•</div>
<div class="abs t" style="left:324px;top:131.3px;">国产卫星定位设备</div>
<div class="abs b" style="left:424.3px;top:131px;">•</div>
<div class="abs t" style="left:442px;top:131.3px;">北斗/GPS双模增强</div>
<div class="abs b" style="left:306px;top:153.7px;">•</div>
<div class="abs t" style="left:324px;top:154px;">千寻基站厘米级定位</div>
<div class="abs b" style="left:424.5px;top:154px;">•</div>
<div class="abs t" style="left:442px;top:154px;">导航芯片集成</div>

<div class="abs b" style="left:306px;top:181px;">•</div>
<div class="abs t" style="left:324px;top:180.5px;">国产单目集成模块</div>
<div class="abs b" style="left:306px;top:197.7px;">•</div>
<div class="abs t" style="left:324px;top:197.5px;">Pedestrian/Vehicle/Bicycle detection</div>

<div class="abs b" style="left:377.6px;top:248px;font-size:13px;">•</div>
<div class="abs l" style="left:395.8px;top:248.2px;">ARM+FPGA+MCU组合方案</div>

<div class="abs l" style="left:232.6px;top:378px;">Decision/Planning/Control</div>
<div class="abs l" style="left:390px;top:378px;">Deep learning based</div>
<div class="abs l" style="left:390px;top:391.5px;">perception&amp;decision</div>
<div class="abs l" style="left:554.6px;top:378px;">Drive-by-wire control</div>
</div>
</body>
</html>
